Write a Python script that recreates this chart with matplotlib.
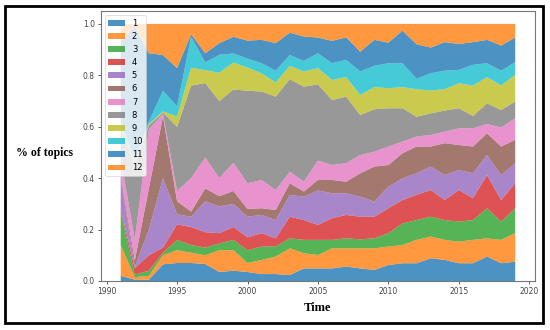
import matplotlib
matplotlib.use("Agg")
import matplotlib.pyplot as plt
from matplotlib.patches import Rectangle
import numpy as np

years = list(range(1991, 2020))
labels = [str(i) for i in range(1, 13)]

# share of each topic per year
t1 = [.02, .005, .005, .065, .07, .07, .066, .035, .04, .035, .027, .027, .023, .049, .049,
      .049, .056, .049, .043, .062, .069, .069, .088, .082, .069, .069, .095, .069, .075]
t2 = [.12, .01, .015, .035, .05, .04, .034, .085, .08, .035, .055, .068, .104, .059, .052,
      .078, .071, .078, .084, .072, .071, .091, .085, .078, .084, .091, .071, .091, .111]
t3 = [.13, .01, .02, .01, .04, .03, .03, .026, .04, .05, .052, .039, .039, .052, .059,
      .033, .039, .035, .039, .052, .084, .077, .077, .077, .078, .077, .117, .071, .097]
t4 = [.01, .025, .06, .02, .06, .07, .06, .04, .05, .05, .052, .032, .084, .077, .058,
      .084, .091, .088, .084, .097, .091, .098, .104, .078, .123, .085, .129, .084, .097]
t5 = [.12, .005, .10, .27, .04, .04, .12, .104, .09, .08, .071, .071, .085, .091, .134,
      .097, .084, .078, .059, .084, .084, .084, .091, .097, .078, .097, .078, .097, .078]
t6 = [.01, .025, .16, .24, .05, .02, .05, .04, .05, .03, .026, .039, .045, .020, .041,
      .052, .045, .091, .136, .084, .098, .104, .078, .124, .097, .104, .085, .111, .091]
t7 = [.07, .08, .23, .01, .04, .13, .12, .07, .11, .10, .110, .078, .045, .039, .075,
      .058, .072, .071, .058, .072, .045, .039, .045, .045, .065, .071, .036, .074, .084]
t8 = [.12, .29, .015, .005, .25, .36, .29, .30, .285, .36, .344, .363, .360, .369, .297,
      .253, .259, .156, .165, .149, .130, .077, .084, .082, .078, .048, .080, .068, .065]
t9 = [.01, .01, .005, .005, .04, .07, .05, .11, .105, .09, .071, .055, .052, .059, .063,
      .078, .076, .078, .086, .078, .082, .107, .089, .083, .097, .118, .102, .096, .104]
t10 = [.01, .01, .01, .08, .04, .12, .03, .07, .035, .035, .039, .046, .042, .041, .058,
       .065, .067, .091, .083, .097, .093, .040, .067, .072, .052, .081, .054, .057, .049]
t11 = [.31, .52, .266, .139, .148, .01, .036, .045, .065, .07, .091, .107, .087, .095, .061,
       .087, .088, .077, .101, .080, .127, .135, .100, .111, .101, .088, .091, .098, .096]
t12 = [.07, .01, .114, .121, .172, .04, .114, .075, .05, .065, .062, .075, .034, .049, .053,
       .066, .052, .108, .062, .073, .026, .079, .092, .071, .078, .071, .062, .084, .053]

topics = [t1, t2, t3, t4, t5, t6, t7, t8, t9, t10, t11, t12]
colors = plt.rcParams['axes.prop_cycle'].by_key()['color']
colors = [colors[i % 10] for i in range(12)]

fig = plt.figure(figsize=(5.5, 3.3), dpi=100)
ax = fig.add_axes([0.1836, 0.1485, 0.789, 0.818])

ax.stackplot(years, np.array(topics), labels=labels, colors=colors, alpha=0.8, linewidth=0)
ax.set_xticks([1990, 1995, 2000, 2005, 2010, 2015, 2020])
ax.set_yticks([0.0, 0.2, 0.4, 0.6, 0.8, 1.0])
ax.tick_params(labelsize=5.5, length=2.5, width=0.6, colors='#444444', pad=2)
for sp in ax.spines.values():
    sp.set_color('#777777')
    sp.set_linewidth(0.8)

leg = ax.legend(loc='upper left', fontsize=6, labelspacing=0.5, borderaxespad=0.5)
leg.get_frame().set_linewidth(0.5)

fig.text(44.5 / 550, 1 - 153 / 330, '% of topics', ha='center', va='center',
         family='Liberation Serif', weight='bold', size=8.5)
fig.text(318 / 550, 1 - 308 / 330, 'Time', ha='center', va='center',
         family='Liberation Serif', weight='bold', size=9)

fig.patches.append(Rectangle((5 / 550, 7 / 330), 538 / 550, 317 / 330, fill=False,
                             lw=2, edgecolor='black', transform=fig.transFigure))

fig.savefig('out.png', dpi=100)
